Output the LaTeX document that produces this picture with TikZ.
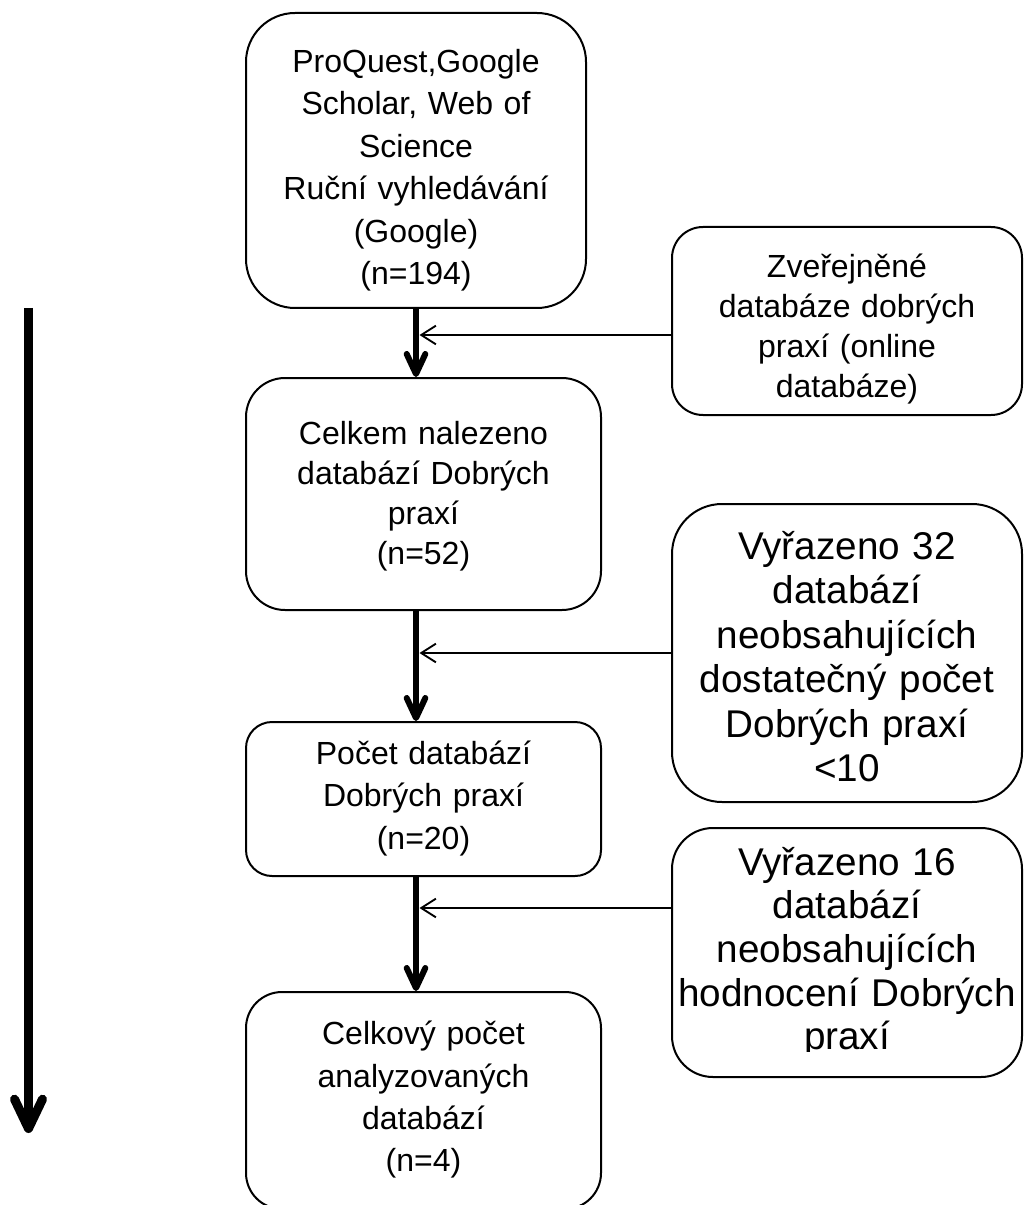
\documentclass[tikz,border=0pt]{standalone}
\usepackage{fontspec}
\setmainfont{Liberation Sans}
\usetikzlibrary{arrows.meta,calc}
\begin{document}
\begin{tikzpicture}[x=0.75pt,y=-0.75pt,
  box/.style={draw, line width=1.5pt, inner sep=0pt},
  txt/.style={anchor=base, align=center, inner sep=0pt, font=\fontsize{24}{31.7}\selectfont},
  bigtxt/.style={anchor=base, align=center, inner sep=0pt, font=\fontsize{29}{33.4}\selectfont},
  flow/.style={line width=4.5pt, -{Straight Barb[length=15pt,width=14pt,round]}},
  side/.style={line width=1.4pt, -{Straight Barb[length=11pt,width=14pt]}},
  bigflow/.style={line width=6.75pt, -{Straight Barb[length=22pt,width=21pt,round]}},
]
\useasboundingbox (0,0) rectangle (1025,1205);

% boxes
\node[box, minimum width=255pt, minimum height=221.25pt, rounded corners=36.75pt] (b1) at (416,160.5) {};
\node[box, minimum width=262.5pt, minimum height=141pt, rounded corners=23.25pt] (z) at (847,321) {};
\node[box, minimum width=266.25pt, minimum height=174pt, rounded corners=29.25pt] (b2) at (423.5,494) {};
\node[box, minimum width=262.5pt, minimum height=223.5pt, rounded corners=37.5pt] (v32) at (847,653) {};
\node[box, minimum width=266.25pt, minimum height=115.5pt, rounded corners=19.5pt] (b3) at (423.5,799) {};
\node[box, minimum width=262.5pt, minimum height=186.75pt, rounded corners=30.75pt] (v16) at (847,952.5) {};
\node[box, minimum width=266.25pt, minimum height=162.75pt, rounded corners=27pt] (b4) at (423.5,1100.5) {};

% texts
\node[txt, text width=250pt, font=\fontsize{24}{31.8}\selectfont] (t1) at (416,72.6) {ProQuest,Google\\Scholar, Web of\\Science\\Ruční vyhledávání\\(Google)\\(n=194)};
\node[txt, text width=255pt, font=\fontsize{24}{30}\selectfont] (tz) at (847,277.4) {Zveřejněné\\databáze dobrých\\praxí (online\\databáze)};
\node[txt, text width=260pt, font=\fontsize{24}{30}\selectfont] (t2) at (423.5,444.4) {Celkem nalezeno\\databází Dobrých\\praxí\\(n=52)};
\node[bigtxt, text width=260pt] (tv32) at (847,559) {Vyřazeno 32\\databází\\neobsahujících\\dostatečný počet\\Dobrých praxí\\<10};
\node[txt, text width=260pt] (t3) at (423.5,764.55) {Počet databází\\Dobrých praxí\\(n=20)};
\begin{scope}
\clip (672,828) rectangle (1022,1051);
\node[bigtxt, text width=260pt, font=\fontsize{29}{32.8}\selectfont] (tv16) at (847,875) {Vyřazeno 16\\databází\\neobsahujících\\hodnocení Dobrých\\praxí};
\end{scope}
\node[txt, text width=260pt] (t4) at (423.5,1044.9) {Celkový počet\\analyzovaných\\databází\\(n=4)};

% main flow
\draw[flow] (b1.south) -- (b1.south |- b2.north);
\draw[flow] (b1.south |- b2.south) -- (b1.south |- b3.north);
\draw[flow] (b1.south |- b3.south) -- (b1.south |- b4.north);

% side inputs
\coordinate (j1) at (419.5,335);
\coordinate (j2) at (419.5,653);
\coordinate (j3) at (419.5,908);
\draw[side] (z.west |- j1) -- (j1);
\draw[side] (v32.west |- j2) -- (j2);
\draw[side] (v16.west |- j3) -- (j3);

% big left arrow
\coordinate (L1) at (28.5,308);
\coordinate (L2) at (28.5,1133);
\draw[bigflow] (L1) -- (L2);
\end{tikzpicture}
\end{document}
